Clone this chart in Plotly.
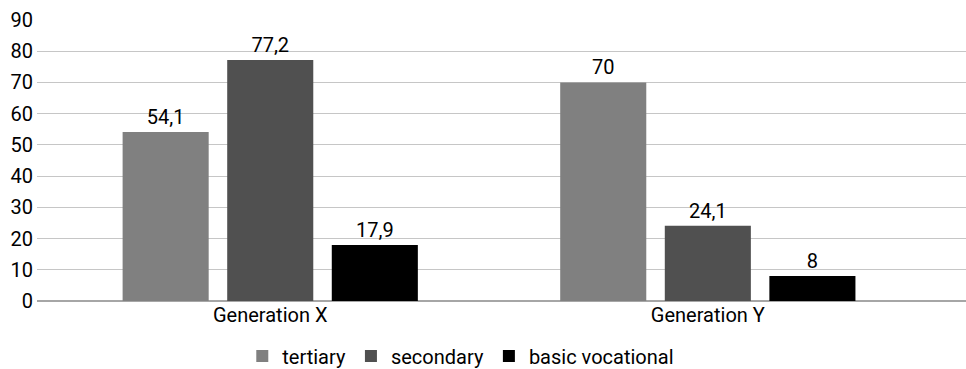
import plotly.graph_objects as go

# Share of respondents by education level, per generation
categories = ["Generation X", "Generation Y"]
series_names = ["tertiary", "secondary", "basic vocational"]
tertiary = [54.1, 70]
secondary = [77.2, 24.1]
basic_vocational = [17.9, 8]
y_ticks = [0, 10, 20, 30, 40, 50, 60, 70, 80, 90]

colors = ["#808080", "#505050", "#000000"]
values = [tertiary, secondary, basic_vocational]

FONT = "Roboto"
TEXT = "#000000"
SIZE = 20


def fmt(v):
    # decimal comma labels
    s = ("%g" % v)
    return s.replace(".", ",")


fig = go.Figure()
for name, vals, col in zip(series_names, values, colors):
    fig.add_trace(go.Bar(
        x=[0, 1],
        y=vals,
        name=name,
        marker=dict(color=col, line=dict(width=0)),
        text=[fmt(v) for v in vals],
        textposition="outside",
        textfont=dict(family=FONT, size=SIZE, color=TEXT),
        cliponaxis=False,
    ))

fig.update_layout(
    width=966,
    height=369,
    margin=dict(l=37, r=0, t=20, b=68, autoexpand=False),
    paper_bgcolor="white",
    plot_bgcolor="white",
    barmode="group",
    bargap=0.283,
    bargroupgap=0.177,
    font=dict(family=FONT, size=SIZE, color=TEXT),
    showlegend=True,
    legend=dict(
        orientation="h",
        xref="container",
        yref="container",
        x=0.477,
        xanchor="center",
        y=1 - 356 / 369,
        yanchor="middle",
        font=dict(family=FONT, size=SIZE, color=TEXT),
        itemwidth=30,
        tracegroupgap=0,
    ),
    xaxis=dict(
        range=[-0.533, 1.59],
        tickmode="array",
        tickvals=[0, 1],
        ticktext=categories,
        showgrid=False,
        zeroline=False,
        showline=False,
        ticks="",
        tickfont=dict(family=FONT, size=SIZE, color=TEXT),
    ),
    yaxis=dict(
        range=[0, 90],
        tickmode="array",
        tickvals=y_ticks,
        showgrid=True,
        gridcolor="#c6c6c6",
        gridwidth=1,
        zeroline=True,
        zerolinecolor="#a6a6a6",
        zerolinewidth=1.5,
        showline=False,
        ticks="",
        ticklabelstandoff=3,
        tickfont=dict(family=FONT, size=SIZE, color=TEXT),
    ),
)

fig.write_html("out.html")
